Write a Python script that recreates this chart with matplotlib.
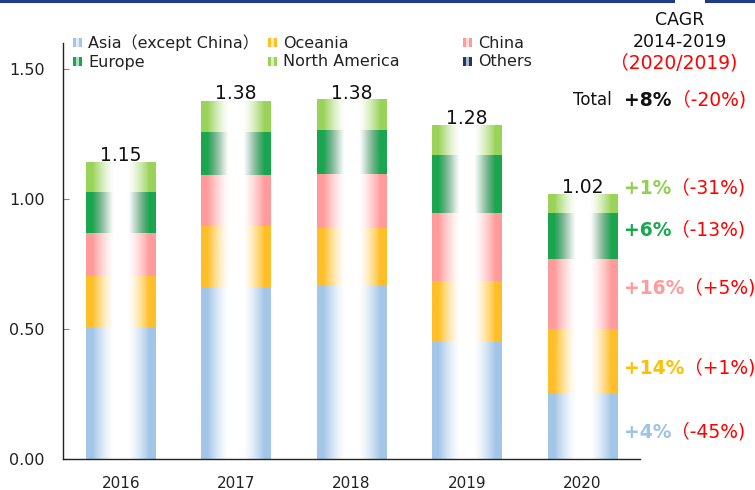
import numpy as np
import matplotlib.pyplot as plt
from matplotlib.patches import Rectangle
from matplotlib.lines import Line2D
from matplotlib.colors import to_rgb

# data
years = ['2016', '2017', '2018', '2019', '2020']
totals = [1.15, 1.38, 1.38, 1.28, 1.02]
regions = ['Asia（except China）', 'Oceania', 'China', 'Europe', 'North America', 'Others']
asia = [0.505, 0.663, 0.667, 0.451, 0.254]
oceania = [0.200, 0.234, 0.223, 0.234, 0.245]
china = [0.164, 0.195, 0.206, 0.262, 0.269]
europe = [0.159, 0.167, 0.169, 0.222, 0.179]
north_america = [0.114, 0.119, 0.116, 0.113, 0.072]
others = [0.0, 0.0, 0.0, 0.0, 0.0]
colors = ['#a3c6e8', '#ffbf29', '#ff9b9b', '#1aa64f', '#9ad35a', '#1f3864']
# how much the mid part of the gradient greys out
dim = [0.0, 0.0, 0.0, 0.12, 0.0, 0.0]

# CAGR 2014-2019 and 2020/2019 per region (Asia, Oceania, China, Europe, N. America)
cagr = ['+4%', '+14%', '+16%', '+6%', '+1%']
change_2020 = ['（-45%)', '（+1%)', '（+5%)', '（-13%)', '（-31%)']
cagr_colors = ['#9dc3e6', '#ffc000', '#ff9b9b', '#18a84e', '#92d050']
total_cagr = '+8%'
total_change = '（-20%)'

W, H = 755, 490
plt.rcParams['font.family'] = ['DejaVu Sans', 'Noto Sans CJK JP']
fig = plt.figure(figsize=(W / 100, H / 100), dpi=100)
ax = fig.add_axes([63 / W, 1 - 459 / H, 577 / W, 416 / H])

series = [asia, oceania, china, europe, north_america, others]
x = np.arange(len(years))
bottom = np.zeros(len(years))

# horizontal bar shading: colour at the edges, white in the middle
t = np.linspace(0, 1, 101)
d = np.abs(t - 0.5) * 2
w = np.clip((d - 0.2) / 0.62, 0, 1) ** 1.4

for vals, col, k in zip(series, colors, dim):
    bars = ax.bar(x, vals, 0.6, bottom=bottom, color='none', linewidth=0)
    c = np.array(to_rgb(col))
    grad = (1 - w)[:, None] * np.ones(3) + w[:, None] * c
    grad = grad * (1 - k * 4 * w * (1 - w))[:, None]
    img = grad[None, :, :]
    for b in bars:
        if b.get_height() <= 0:
            continue
        ax.imshow(img, extent=[b.get_x(), b.get_x() + b.get_width(),
                               b.get_y(), b.get_y() + b.get_height()],
                  aspect='auto', interpolation='antialiased', zorder=2)
    bottom = bottom + np.array(vals)

for i, tot in enumerate(totals):
    ax.annotate(f'{tot:.2f}', xy=(x[i], bottom[i]), xytext=(0, 1),
                textcoords='offset points', ha='center', va='baseline',
                fontsize=13.5, color='#111111')

ax.set_xlim(-0.5, 4.5)
ax.set_ylim(0, 1.6)
ax.set_xticks(x)
ax.set_xticklabels(years)
ax.set_yticks([0, 0.5, 1.0, 1.5])
ax.set_yticklabels(['0.00', '0.50', '1.00', '1.50'])
ax.tick_params(axis='x', length=0, pad=12, labelsize=11, labelcolor='#222222')
ax.tick_params(axis='y', direction='in', length=4, color='#888888', pad=13,
               labelsize=11.5, labelcolor='#222222')
for s in ['top', 'right']:
    ax.spines[s].set_visible(False)
for s in ['left', 'bottom']:
    ax.spines[s].set_color('#222222')
    ax.spines[s].set_linewidth(1.0)

# top navy rule
fig.add_artist(Line2D([0, 673 / W], [1 - 1 / H, 1 - 1 / H], color='#1f3c88', lw=2.2))
fig.add_artist(Line2D([706 / W, 1], [1 - 1 / H, 1 - 1 / H], color='#1f3c88', lw=2.2))

# legend, 3 columns x 2 rows
leg_pos = [(73, 43), (268, 43), (463, 43), (73, 62), (268, 62), (463, 62)]
for (px, py), name, col in zip(leg_pos, regions, colors):
    c = np.array(to_rgb(col))
    light = 0.35 * c + 0.65
    for dx, cc in [(0, c), (3, light), (6, c)]:
        fig.add_artist(Rectangle(((px + dx) / W, 1 - (py + 4.5) / H), 3.2 / W, 9 / H,
                                 facecolor=cc, edgecolor='none', transform=fig.transFigure))
    fig.text((px + 15) / W, 1 - py / H, name, fontsize=11.5, va='center', color='#222222')

# CAGR header
fig.text(680 / W, 1 - 20 / H, 'CAGR', ha='center', va='center', fontsize=12.5, color='#111111')
fig.text(680 / W, 1 - 42 / H, '2014-2019', ha='center', va='center', fontsize=12.5, color='#111111')
fig.text(674 / W, 1 - 63 / H, '（2020/2019)', ha='center', va='center', fontsize=13.5, color='red')

t0 = fig.text(573 / W, 1 - 100 / H, 'Total', va='center', fontsize=12, color='#111111')
t1 = ax.annotate(total_cagr, xy=(1, 0.5), xycoords=t0, xytext=(9, 0), textcoords='offset points',
                 va='center', fontsize=13.5, fontweight='bold', color='#111111',
                 annotation_clip=False)
ax.annotate(total_change, xy=(1, 0.5), xycoords=t1, xytext=(0, 0), textcoords='offset points',
            va='center', fontsize=13.5, color='red', annotation_clip=False)

label_y = [432, 368, 288, 230, 188]
for k in range(len(cagr)):
    tc = fig.text(624 / W, 1 - label_y[k] / H, cagr[k], va='center', fontsize=13.5,
                  fontweight='bold', color=cagr_colors[k])
    ax.annotate(change_2020[k], xy=(1, 0.5), xycoords=tc, xytext=(0, 0),
                textcoords='offset points', va='center', fontsize=13.5, color='red',
                annotation_clip=False)

fig.savefig('out.png', dpi=100)
